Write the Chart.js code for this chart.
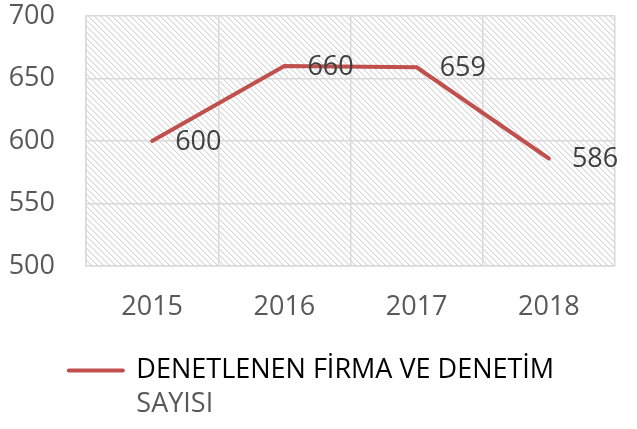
<!DOCTYPE html>
<html>
<head>
<meta charset="utf-8">
<script src="https://cdn.jsdelivr.net/npm/chart.js@4"></script>
<style>
  html, body { margin: 0; padding: 0; background: #ffffff; }
  #wrap { width: 637px; height: 429px; }
</style>
</head>
<body>
<div id="wrap"><canvas id="lineChart"></canvas></div>
<script>
// chart data
var years = ["2015", "2016", "2017", "2018"];
var counts = [600, 660, 659, 586];
var seriesName = ["DENETLENEN FİRMA VE DENETİM", "SAYISI"];

var red = "#c0504d";
var fontName = "'Open Sans', sans-serif";

// diagonal hatch tile for the plot background
function makeHatch(ctx){
    var n = 6;
    var tile = document.createElement("canvas");
    tile.width = n;
    tile.height = n;
    var c = tile.getContext("2d");
    c.fillStyle = "#ffffff";
    c.fillRect(0, 0, n, n);
    for(let i = 0; i < n; i++){
        c.fillStyle = "#d6d6d6";
        c.fillRect(i, i, 1, 1);
        c.fillStyle = "#eeeeee";
        c.fillRect((i + 1) % n, i, 1, 1);
    }
    return ctx.createPattern(tile, "repeat");
}

var hatchPlugin = {
    id: "hatch",
    beforeDraw(chart){
        var area = chart.chartArea;
        var ctx = chart.ctx;
        ctx.save();
        ctx.fillStyle = makeHatch(ctx);
        ctx.fillRect(area.left, area.top, area.right - area.left, area.bottom - area.top);
        ctx.restore();
    }
};

// value labels to the right of each point, plus the wrapped second line of the legend
var valueLabels = {
    id: "valueLabels",
    afterDatasetsDraw(chart){
        var ctx = chart.ctx;
        var meta = chart.getDatasetMeta(0);
        ctx.save();
        ctx.font = "27px " + fontName;
        ctx.fillStyle = "#404040";
        ctx.textAlign = "left";
        ctx.textBaseline = "middle";
        meta.data.forEach(function(pt, i){
            ctx.fillText(String(counts[i]), pt.x + 23, pt.y + 1);
        });
        ctx.restore();
    },
    afterDraw(chart){
        var lg = chart.legend;
        if (!lg || !lg.legendHitBoxes || !lg.legendHitBoxes.length) return;
        var hb = lg.legendHitBoxes[0];
        var ctx = chart.ctx;
        ctx.save();
        ctx.font = "27px " + fontName;
        ctx.fillStyle = "#595959";
        ctx.textAlign = "left";
        ctx.textBaseline = "middle";
        ctx.fillText(seriesName[1], hb.left + 54 + 13.5, hb.top + 13.5 + 34);
        ctx.restore();
    }
};

var config = {
    type: "line",
    data: {
        labels: years,
        datasets: [{
            label: seriesName.join(" "),
            data: counts,
            borderColor: red,
            backgroundColor: red,
            borderWidth: 4,
            borderCapStyle: "round",
            pointRadius: 0,
            tension: 0
        }]
    },
    options: {
        responsive: true,
        maintainAspectRatio: false,
        animation: false,
        layout: {
            padding: { left: 8, right: 22, top: 1, bottom: 35 }
        },
        plugins: {
            tooltip: { enabled: false },
            legend: {
                position: "bottom",
                labels: {
                    usePointStyle: true,
                    pointStyleWidth: 54,
                    padding: 8,
                    color: "#595959",
                    font: { family: fontName, size: 27 },
                    generateLabels: function(chart){
                        return [{
                            text: seriesName[0],
                            fillStyle: red,
                            strokeStyle: red,
                            lineWidth: 4,
                            lineCap: "round",
                            pointStyle: "line",
                            datasetIndex: 0
                        }];
                    }
                }
            }
        },
        scales: {
            x: {
                offset: true,
                grid: { offset: true, color: "#d9d9d9", lineWidth: 1.5, drawTicks: false },
                border: { color: "#d9d9d9", width: 1.5 },
                ticks: {
                    padding: 25,
                    color: "#595959",
                    font: { family: fontName, size: 27 }
                },
                afterFit: function(scale){
                    scale.height = 83;
                }
            },
            y: {
                min: 500,
                max: 700,
                grid: { color: "#d9d9d9", lineWidth: 1.5, drawTicks: false },
                border: { color: "#d9d9d9", width: 1.5 },
                ticks: {
                    stepSize: 50,
                    padding: 31,
                    color: "#595959",
                    font: { family: fontName, size: 27 }
                },
                afterFit: function(scale){
                    scale.width = 78;
                    scale.paddingTop = 16;
                    scale.paddingBottom = 16;
                }
            }
        }
    },
    plugins: [hatchPlugin, valueLabels]
};

new Chart(document.getElementById("lineChart"), config);
</script>
</body>
</html>
